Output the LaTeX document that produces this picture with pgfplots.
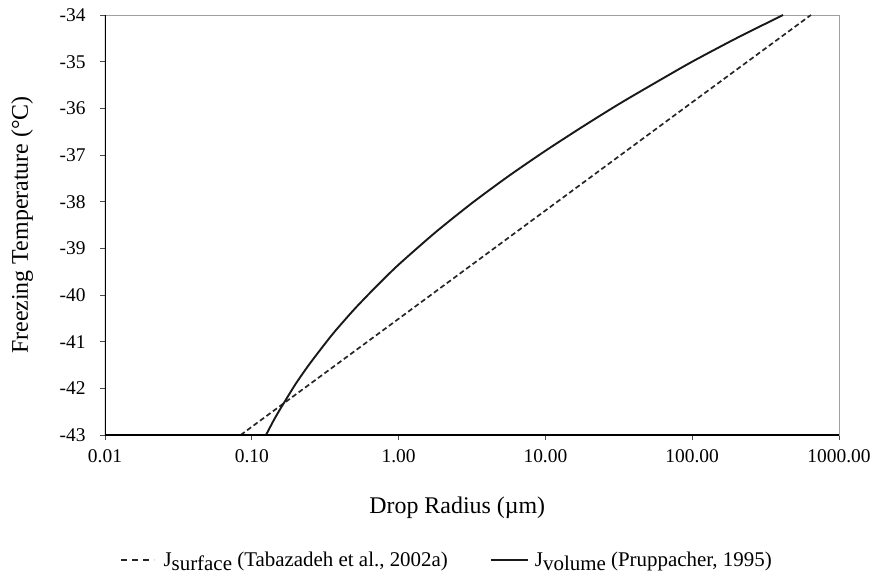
\documentclass[border=0pt]{standalone}
\usepackage{pgfplots}
\pgfplotsset{compat=1.18}
\usepackage{fontspec}
\setmainfont{Liberation Serif}

\begin{document}
\begin{tikzpicture}
\useasboundingbox (-105bp,-146bp) rectangle (769bp,435bp);
\begin{axis}[
at={(0,0)}, anchor=south west,
width=734bp, height=420bp,
scale only axis=true,
xmode=log,
xmin=0.01, xmax=1000,
ymin=-43, ymax=-34,
xtick={0.01,0.1,1,10,100,1000},
xticklabels={0.01,0.10,1.00,10.00,100.00,1000.00},
xminorticks=false,
ytick={-43,-42,-41,-40,-39,-38,-37,-36,-35,-34},
yticklabels={-43,-42,-41,-40,-39,-38,-37,-36,-35,-34},
tick align=outside,
tick pos=left,
major tick length=5bp,
tick style={draw=black!70, line width=0.6bp},
axis line style={draw=gray!75, line width=0.8bp},
xticklabel style={font=\fontsize{19.5}{22}\selectfont, yshift=-6bp},
yticklabel style={font=\fontsize{19.5}{22}\selectfont, xshift=-11bp},
xlabel={Drop Radius (µm)},
ylabel={Freezing Temperature (°C)},
xlabel style={font=\fontsize{24}{28}\selectfont, at={(axis description cs:0.48,-0.174)}, anchor=center},
ylabel style={font=\fontsize{24}{28}\selectfont, at={(axis description cs:-0.113,0.5)}, anchor=center},
legend columns=2,
legend style={draw=none, fill=none, at={(axis description cs:0.466,-0.298)}, anchor=center,
  font=\fontsize{21}{25}\selectfont, /tikz/every even column/.append style={column sep=40bp}},
legend cell align=left,
]
% J_surface
\addplot[black!85, line width=1.7bp, dash pattern=on 5bp off 3bp, forget plot] coordinates {
(0.084,-43.00) (1,-40.51) (10,-38.19) (100,-35.87) (644,-34.00)
};
% J_volume
\addplot[black!90, line width=1.9bp, smooth, tension=0.4, forget plot] coordinates {
(0.125,-43.00) (0.1413,-42.68) (0.1585,-42.41) (0.1995,-41.90) (0.2512,-41.45)
(0.3548,-40.84) (0.5012,-40.30) (0.7079,-39.81) (1,-39.35) (1.778,-38.66)
(3.162,-38.03) (5.623,-37.45) (10,-36.91) (17.78,-36.40) (31.62,-35.91)
(56.23,-35.45) (100,-35.00) (199.5,-34.50) (415.9,-34.00)
};
\addlegendimage{legend image code/.code={\draw[black!85, line width=2bp, dash pattern=on 6bp off 5bp] (0bp,0bp) -- (33bp,0bp); \path (40bp,0bp);}}
\addlegendentry{J\raisebox{-4bp}{surface} (Tabazadeh et al., 2002a)}
\addlegendimage{legend image code/.code={\draw[black!90, line width=1.9bp] (0bp,0bp) -- (37bp,0bp); \path (42bp,0bp);}}
\addlegendentry{J\raisebox{-4bp}{volume} (Pruppacher, 1995)}
\draw[black, line width=1.6bp] (rel axis cs:0,1) -- (rel axis cs:0,0) -- (rel axis cs:1,0);
\end{axis}
\end{tikzpicture}
\end{document}
